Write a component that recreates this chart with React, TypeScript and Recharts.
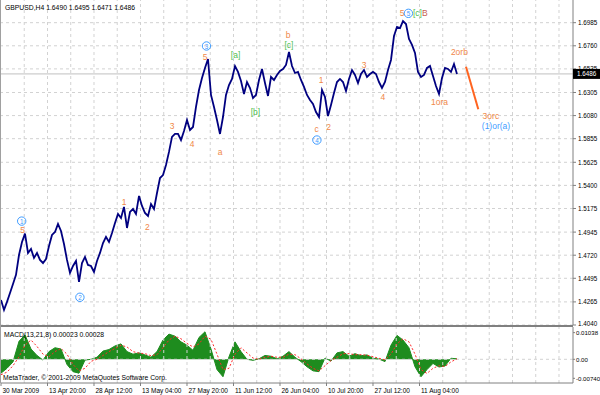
import {
  Area,
  ComposedChart,
  Line,
  ReferenceLine,
  Scatter,
  XAxis,
  YAxis,
} from "recharts";

// GBPUSD H4 closes, sampled left to right (one value per sample slot)
const prices = [
  1.4284, 1.4187, 1.4265, 1.4352, 1.444, 1.4528, 1.4722, 1.4849, 1.493, 1.4742,
  1.4781, 1.4693, 1.4742, 1.4674, 1.4644, 1.4683, 1.481, 1.4917, 1.4946, 1.5024,
  1.4956, 1.4829, 1.4674, 1.4547, 1.4615, 1.4664, 1.446, 1.4644, 1.4703, 1.4625,
  1.4615, 1.4557, 1.4664, 1.4742, 1.4839, 1.4898, 1.4849, 1.4937, 1.5034, 1.5122,
  1.5083, 1.519, 1.4985, 1.5141, 1.517, 1.5122, 1.5297, 1.52, 1.5131, 1.5102,
  1.5219, 1.517, 1.5326, 1.5472, 1.5501, 1.5599, 1.5726, 1.5872, 1.5901, 1.5901,
  1.5842, 1.593, 1.6037, 1.594, 1.5969, 1.6164, 1.6329, 1.6446, 1.6544, 1.6631,
  1.6281, 1.6164, 1.6037, 1.5901, 1.6066, 1.6281, 1.6378, 1.6437, 1.6563, 1.6505,
  1.6417, 1.629, 1.6407, 1.6349, 1.6251, 1.6281, 1.6427, 1.6534, 1.6398, 1.6271,
  1.6456, 1.6427, 1.6476, 1.6515, 1.6534, 1.6573, 1.67, 1.6563, 1.6495, 1.6505,
  1.6427, 1.6359, 1.6281, 1.6232, 1.6193, 1.6115, 1.6066, 1.6329, 1.6261, 1.6076,
  1.6183, 1.63, 1.6407, 1.6437, 1.6407, 1.632, 1.6437, 1.6524, 1.6476, 1.6398,
  1.6485, 1.6524, 1.6456, 1.6485, 1.6505, 1.6485, 1.6407, 1.6349, 1.6407, 1.6524,
  1.6622, 1.6855, 1.6943, 1.6933, 1.7001, 1.6972, 1.6826, 1.6768, 1.669, 1.6505,
  1.6456, 1.6476, 1.6544, 1.6563, 1.6466, 1.6368, 1.629, 1.6446, 1.6544, 1.6534,
  1.6505, 1.6583, 1.6486,
];

// MACD(13,21,8) main and signal, one value every second price slot
const macd = [
  -0.0054, -0.0035, -0.001, 0.007, 0.0095, 0.004, 0.0015, -0.0003, 0.003, 0.0045,
  0.004, -0.002, -0.0048, -0.0054, -0.0003, 0.0, 0.0008, 0.0032, 0.0038, 0.0052,
  0.006, 0.003, 0.002, 0.0025, 0.0017, 0.0008, 0.003, 0.0075, 0.0098, 0.009,
  0.0068, 0.0055, 0.0035, 0.0085, 0.0107, 0.004, -0.004, -0.0068, 0.001, 0.0068,
  0.003, 0.0, -0.0004, 0.0002, 0.0015, 0.0012, 0.0002, 0.0012, 0.003, 0.0008,
  -0.0009, -0.0029, -0.0045, -0.0048, 0.0005, -0.0007, 0.0025, 0.003, 0.0012, 0.0022,
  0.0014, 0.0017, 0.0004, 0.0001, -0.0009, 0.0055, 0.0093, 0.0075, 0.0045, -0.0029,
  -0.0068, -0.004, -0.0016, -0.003, -0.0026, 0.0004, 0.0002,
];
const signal = [
  -0.006, -0.005, -0.0025, 0.001, 0.0055, 0.0075, 0.005, 0.002, 0.001, 0.003,
  0.0042, 0.002, -0.002, -0.0045, -0.0035, -0.0008, 0.0, 0.0015, 0.003, 0.0042,
  0.0055, 0.0048, 0.003, 0.0024, 0.0022, 0.0014, 0.0018, 0.0045, 0.0075, 0.009,
  0.008, 0.0062, 0.0048, 0.006, 0.009, 0.0078, 0.002, -0.004, -0.0035, 0.002,
  0.0045, 0.0025, 0.0005, 0.0, 0.0008, 0.0012, 0.0008, 0.0008, 0.002, 0.0018,
  0.0002, -0.0018, -0.0035, -0.0045, -0.0025, -0.0005, 0.0008, 0.0022, 0.0022, 0.0018,
  0.0018, 0.0016, 0.001, 0.0004, -0.0002, 0.002, 0.006, 0.008, 0.0068, 0.002,
  -0.004, -0.0055, -0.0035, -0.0025, -0.0028, -0.001, 0.0002,
];

const timeLabels = [
  "30 Mar 2009",
  "13 Apr 20:00",
  "28 Apr 12:00",
  "13 May 04:00",
  "27 May 20:00",
  "11 Jun 12:00",
  "26 Jun 04:00",
  "10 Jul 20:00",
  "27 Jul 12:00",
  "11 Aug 04:00",
];

const priceTicks = [
  1.404, 1.4265, 1.4495, 1.472, 1.4945, 1.5175, 1.54, 1.5625, 1.5855, 1.608,
  1.6305, 1.6535, 1.676, 1.6985,
];
const lastPrice = 1.6486;
const macdTicks = [0.01038, 0, -0.0074];
const macdTickText = ["0.01038", "0.00", "-0.00740"];

// wave counts: o = orange, g = green, c = blue circled, t = blue text, r = red
const waveLabels = [
  { text: "(1)", kind: "c", i: 6.9, p: 1.5052 },
  { text: "5", kind: "o", i: 7.2, p: 1.4968 },
  { text: "(2)", kind: "c", i: 26.3, p: 1.431 },
  { text: "1", kind: "o", i: 41, p: 1.5239 },
  { text: "2", kind: "o", i: 48.8, p: 1.4995 },
  { text: "3", kind: "o", i: 57, p: 1.5979 },
  { text: "4", kind: "o", i: 63.7, p: 1.5803 },
  { text: "(3)", kind: "c", i: 68.5, p: 1.6758 },
  { text: "5", kind: "o", i: 68, p: 1.6655 },
  { text: "a", kind: "o", i: 73, p: 1.5721 },
  { text: "[a]", kind: "g", i: 78.2, p: 1.667 },
  { text: "[b]", kind: "g", i: 84.8, p: 1.6115 },
  { text: "b", kind: "o", i: 95.7, p: 1.6865 },
  { text: "[c]", kind: "g", i: 96, p: 1.6763 },
  { text: "c", kind: "o", i: 105.2, p: 1.5945 },
  { text: "(4)", kind: "c", i: 105.3, p: 1.5842 },
  { text: "1", kind: "o", i: 106.7, p: 1.6427 },
  { text: "2", kind: "o", i: 109.2, p: 1.5969 },
  { text: "3", kind: "o", i: 121, p: 1.6573 },
  { text: "4", kind: "o", i: 127.3, p: 1.6261 },
  { text: "5", kind: "o", i: 133.7, p: 1.7076 },
  { text: "(5)", kind: "c", i: 135.8, p: 1.7076 },
  { text: "[c]", kind: "g", i: 138.8, p: 1.7076 },
  { text: "B", kind: "r", i: 141.3, p: 1.7076 },
  { text: "1ora", kind: "o", i: 146.2, p: 1.6208 },
  { text: "2orb", kind: "o", i: 152.8, p: 1.6702 },
  { text: "3orc", kind: "o", i: 163.3, p: 1.6076 },
  { text: "(1)or(a)", kind: "t", i: 165, p: 1.5979 },
];
const projection = [
  { x: 155, y: 1.6556 },
  { x: 159.1, y: 1.6141 },
];

const X_MAX = 190.67;
const BARS_PER_LABEL = 15.5;
const FONT = "'Liberation Sans', Arial, sans-serif";
const GRID = "#d2d2d2";
const AXIS = "#808080";
const colors: Record<string, string> = {
  o: "#f08848",
  g: "#4fbf4f",
  c: "#3f9cff",
  t: "#3f9cff",
  r: "#c8604f",
};

const priceData = prices.map((p, i) => ({ i, p }));
const macdData = macd.map((m, k) => ({ i: k * 2, m, s: signal[k] }));
const labelTicks = timeLabels.map((_, k) => k * BARS_PER_LABEL);
const gridX = Array.from({ length: 24 }, (_, j) => (j + 1) * (BARS_PER_LABEL / 2));

function WaveLabel(props: any) {
  const { cx, cy, payload } = props;
  const color = colors[payload.kind];
  if (payload.kind === "c") {
    return (
      <g>
        <circle cx={cx} cy={cy} r={4.2} fill="none" stroke={color} strokeWidth={1} />
        <text x={cx} y={cy + 0.3} fontSize={6.3} fontFamily={FONT} fill={color} textAnchor="middle" dominantBaseline="central">
          {payload.text.replace(/[()]/g, "")}
        </text>
      </g>
    );
  }
  return (
    <text x={cx} y={cy} fontSize={8.5} fontFamily={FONT} fill={color} textAnchor="middle" dominantBaseline="central">
      {payload.text}
    </text>
  );
}

function PriceTick(props: any) {
  const { x, y, payload } = props;
  const v = payload.value;
  if (v === lastPrice) {
    return (
      <g>
        <rect x={x} y={y - 5} width={27} height={10} fill="#000" />
        <text x={x + 4} y={y} fontSize={6.3} fontFamily={FONT} fill="#fff" dominantBaseline="central">
          {v.toFixed(4)}
        </text>
      </g>
    );
  }
  return (
    <g>
      <line x1={x} x2={x + 3} y1={y} y2={y} stroke={AXIS} />
      <text x={x + 5} y={v === priceTicks[0] ? y - 1.5 : y} fontSize={6.3} fontFamily={FONT} fill="#000" dominantBaseline="central">
        {v.toFixed(4)}
      </text>
    </g>
  );
}

function MacdTick(props: any) {
  const { x, y, index } = props;
  return (
    <g>
      <line x1={x} x2={x + 2} y1={y} y2={y} stroke={AXIS} />
      <text x={x + 3} y={y} fontSize={6.1} fontFamily={FONT} fill="#000" dominantBaseline="central">
        {macdTickText[index]}
      </text>
    </g>
  );
}

function TimeTick(props: any) {
  const { x, y, index } = props;
  return (
    <g>
      <line x1={x} x2={x} y1={y} y2={y + 3} stroke={AXIS} />
      <text x={x + 1.5} y={y + 9.5} fontSize={6.5} fontFamily={FONT} fill="#000">
        {timeLabels[index]}
      </text>
    </g>
  );
}

export default function App() {
  return (
    <div
      style={{
        position: "absolute",
        left: 0,
        top: 0,
        width: 600,
        height: 395,
        background: "#fff",
        overflow: "hidden",
      }}
    >
      <div style={{ position: "absolute", left: 0, top: 0 }}>
        <ComposedChart width={600} height={331} data={priceData} margin={{ top: 0, right: 0, bottom: 6, left: 1 }}>
          <XAxis type="number" dataKey="i" domain={[0, X_MAX]} hide allowDataOverflow />
          <YAxis
            orientation="right"
            type="number"
            domain={[1.404, 1.7206]}
            ticks={[...priceTicks, lastPrice]}
            interval={0}
            width={27}
            tickSize={0}
            tickMargin={0}
            tickLine={false}
            axisLine={{ stroke: AXIS }}
            tick={(p: any) => <PriceTick {...p} />}
            allowDataOverflow
          />
          {gridX.map((v) => (
            <ReferenceLine key={"x" + v} x={v} stroke={GRID} strokeDasharray="3 3" />
          ))}
          {priceTicks.map((v) => (
            <ReferenceLine key={"y" + v} y={v} stroke={GRID} strokeDasharray="3 3" />
          ))}
          <ReferenceLine y={lastPrice} stroke="#c0c0c0" />
          <Line
            dataKey="p"
            type="linear"
            stroke="#000080"
            strokeWidth={1.8}
            dot={false}
            isAnimationActive={false}
          />
          <ReferenceLine segment={projection} stroke="#ff6420" strokeWidth={2} />
          <Scatter data={waveLabels} dataKey="p" shape={(p: any) => <WaveLabel {...p} />} isAnimationActive={false} />
        </ComposedChart>
      </div>

      <div style={{ position: "absolute", left: 0, top: 325, width: 573, height: 2, background: AXIS }} />
      <div style={{ position: "absolute", left: 0, top: 0, width: 1, height: 383, background: "#a0a0a0" }} />

      <div style={{ position: "absolute", left: 0, top: 327 }}>
        <ComposedChart width={600} height={68} data={macdData} margin={{ top: 0, right: 0, bottom: 0, left: 1 }}>
          <XAxis
            type="number"
            dataKey="i"
            domain={[0, X_MAX]}
            ticks={labelTicks}
            interval={0}
            height={12}
            tickSize={0}
            tickMargin={0}
            tickLine={false}
            axisLine={{ stroke: AXIS }}
            tick={(p: any) => <TimeTick {...p} />}
            allowDataOverflow
          />
          <YAxis
            orientation="right"
            type="number"
            domain={[-0.00922, 0.01257]}
            ticks={macdTicks}
            interval={0}
            width={27}
            tickSize={0}
            tickMargin={0}
            tickLine={false}
            axisLine={{ stroke: AXIS }}
            tick={(p: any) => <MacdTick {...p} />}
            allowDataOverflow
          />
          {gridX.map((v) => (
            <ReferenceLine key={"mx" + v} x={v} stroke={GRID} strokeDasharray="3 3" />
          ))}
          <ReferenceLine y={0} stroke={GRID} strokeDasharray="3 3" />
          <Area
            dataKey="m"
            type="linear"
            stroke="#1e8c1e"
            fill="#1e8c1e"
            fillOpacity={1}
            baseValue={0}
            isAnimationActive={false}
          />
          <Line
            dataKey="s"
            type="linear"
            stroke="#ff2a2a"
            strokeWidth={1}
            strokeDasharray="2 2"
            dot={false}
            isAnimationActive={false}
          />
        </ComposedChart>
      </div>

      <svg width={600} height={395} style={{ position: "absolute", left: 0, top: 0, pointerEvents: "none" }}>
        <text x={5} y={9.5} fontSize={6.8} fontFamily={FONT} fill="#000">
          GBPUSD,H4  1.6490 1.6495 1.6471 1.6486
        </text>
        <text x={4} y={336.5} fontSize={6.8} fontFamily={FONT} fill="#000">
          MACD(13,21,8) 0.00023 0.00028
        </text>
        <text x={3} y={379.8} fontSize={6.8} fontFamily={FONT} fill="#000">
          MetaTrader, © 2001-2009 MetaQuotes Software Corp.
        </text>
      </svg>
    </div>
  );
}
